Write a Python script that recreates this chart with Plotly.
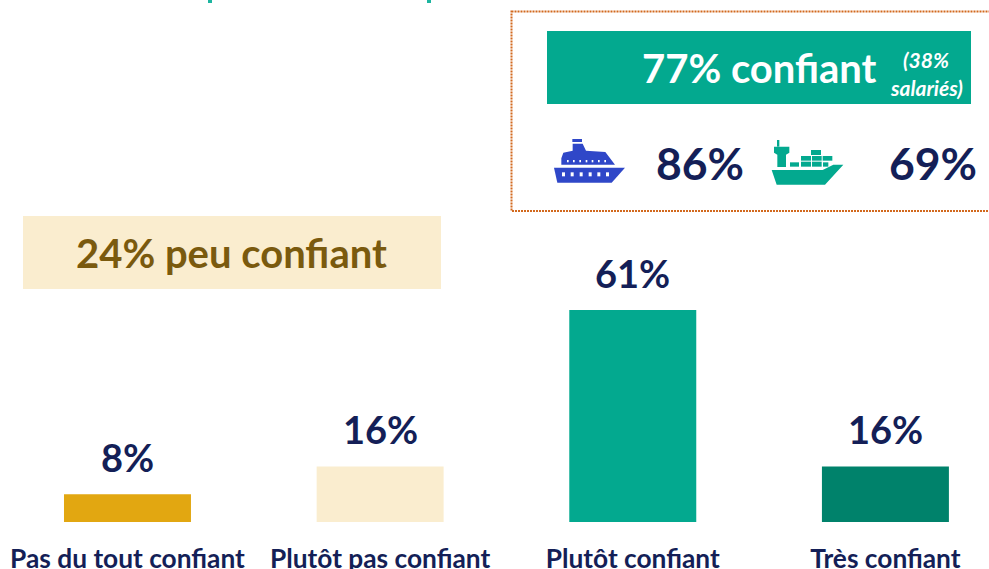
import plotly.graph_objects as go

categories = ["Pas du tout confiant", "Plutôt pas confiant", "Plutôt confiant", "Très confiant"]
values = [8, 16, 61, 16]
bar_colors = ["#E2A711", "#FAEDCF", "#03A98F", "#00826B"]
value_labels = ["8%", "16%", "61%", "16%"]

NAVY = "#141F57"
TEAL = "#03A98F"
BLUE = "#2F47C8"
FONT = "Lato"
W, H, BOTTOM = 989, 569, 47
PH = H - BOTTOM


def px(x):
    return x / W


def py(y):
    return (PH - y) / PH


def z(points):
    """Path from coordinates measured on a 3x crop with origin (500, 0)."""
    parts = []
    for i, (a, b) in enumerate(points):
        parts.append(f"{'M' if i == 0 else 'L'}{px(500 + a / 3):.5f},{py(b / 3):.5f}")
    return " ".join(parts) + " Z"


def rect_shape(x0, y0, x1, y1, color):
    return dict(type="rect", xref="paper", yref="paper", x0=px(x0), x1=px(x1), y0=py(y0), y1=py(y1),
                fillcolor=color, line=dict(width=0), layer="above")


def path_shape(points, color):
    return dict(type="path", xref="paper", yref="paper", path=z(points), fillcolor=color,
                line=dict(width=0), layer="above")


def zrect(x0, y0, x1, y1, color):
    return rect_shape(500 + x0 / 3, y0 / 3, 500 + x1 / 3, y1 / 3, color)


shapes = [
    rect_shape(208, 0, 212, 3, "#1DB5A0"),
    rect_shape(427, 0, 431, 3, "#1DB5A0"),
    dict(type="rect", xref="paper", yref="paper", x0=px(511.5), x1=px(1010), y0=py(11.5), y1=py(211),
         line=dict(color="#D2691E", width=2, dash="2px,1px"), fillcolor="rgba(0,0,0,0)", layer="below"),
    rect_shape(547, 31, 971, 104, TEAL),
    rect_shape(23, 216, 441, 289, "#FAEDCF"),
    # cruise ship
    path_shape([(162, 503), (375, 503), (335, 548), (172, 548)], BLUE),
    path_shape([(184, 494), (345, 494), (316, 456), (258, 452), (248, 431), (218, 431), (218, 452), (190, 458), (184, 475)], BLUE),
    zrect(217, 417, 246, 426, BLUE),
]
for cx in (190, 216, 243, 270, 296, 322):
    shapes.append(zrect(cx - 4, 517, cx + 5, 529, "white"))
for cx in (203, 221, 240, 259, 277, 296, 315):
    shapes.append(zrect(cx - 2, 480, cx + 3, 487, "white"))
# cargo ship
shapes += [
    path_shape([(815, 510), (968, 510), (1000, 494), (1030, 494), (975, 554), (830, 554)], TEAL),
    zrect(831, 420, 838, 440, TEAL),
    path_shape([(822, 440), (868, 440), (868, 458), (858, 464), (858, 501), (832, 501), (832, 464), (822, 458)], TEAL),
    zrect(870, 487, 897, 500, TEAL),
    zrect(903, 485, 933, 500, TEAL), zrect(936, 485, 965, 500, TEAL), zrect(969, 487, 985, 500, TEAL),
    zrect(903, 468, 933, 482, TEAL), zrect(936, 468, 965, 482, TEAL), zrect(968, 468, 997, 482, TEAL),
    zrect(933, 450, 963, 465, TEAL),
]


def note(x, y, text, size, color, italic=False):
    if italic:
        text = f"<i>{text}</i>"
    return dict(xref="paper", yref="paper", x=px(x), y=py(y), text=f"<b>{text}</b>", showarrow=False,
                xanchor="center", yanchor="middle", font=dict(family=FONT, size=size, color=color))


annotations = [
    note(759, 68, "77% confiant", 40, "white"),
    note(926, 60, "(38%", 21, "white", italic=True),
    note(926, 88, "salariés)", 21, "white", italic=True),
    note(700, 163, "86%", 44.5, NAVY),
    note(933, 163, "69%", 44.5, NAVY),
    note(231, 253, "24% peu confiant", 40, "#7A5A0E"),
]
for cat, val, lab in zip(categories, values, value_labels):
    annotations.append(dict(x=cat, y=val, xref="x", yref="y", text=f"<b>{lab}</b>", showarrow=False,
                            xanchor="center", yanchor="bottom", yshift=12,
                            font=dict(family=FONT, size=38, color=NAVY)))

fig = go.Figure(go.Bar(x=categories, y=values, marker=dict(color=bar_colors, line=dict(width=0)),
                       width=0.5026, hoverinfo="skip"))
fig.update_layout(
    width=W, height=H, autosize=False, margin=dict(l=0, r=0, t=0, b=BOTTOM, pad=0),
    paper_bgcolor="white", plot_bgcolor="white", showlegend=False,
    xaxis=dict(type="category", range=[-0.5046, 3.41], showgrid=False, zeroline=False, showline=False,
               ticks="outside", ticklen=13, tickcolor="white", tickwidth=1,
               tickfont=dict(family=FONT, size=26.3, color=NAVY), tickangle=0,
               tickvals=categories, ticktext=[f"<b>{c}</b>" for c in categories], automargin=False),
    yaxis=dict(range=[0, 150.2], visible=False),
    shapes=shapes, annotations=annotations,
)
fig.write_html("out.html", config=dict(displayModeBar=False),
               post_script="document.body.style.margin='0';document.body.style.overflow='hidden';")
